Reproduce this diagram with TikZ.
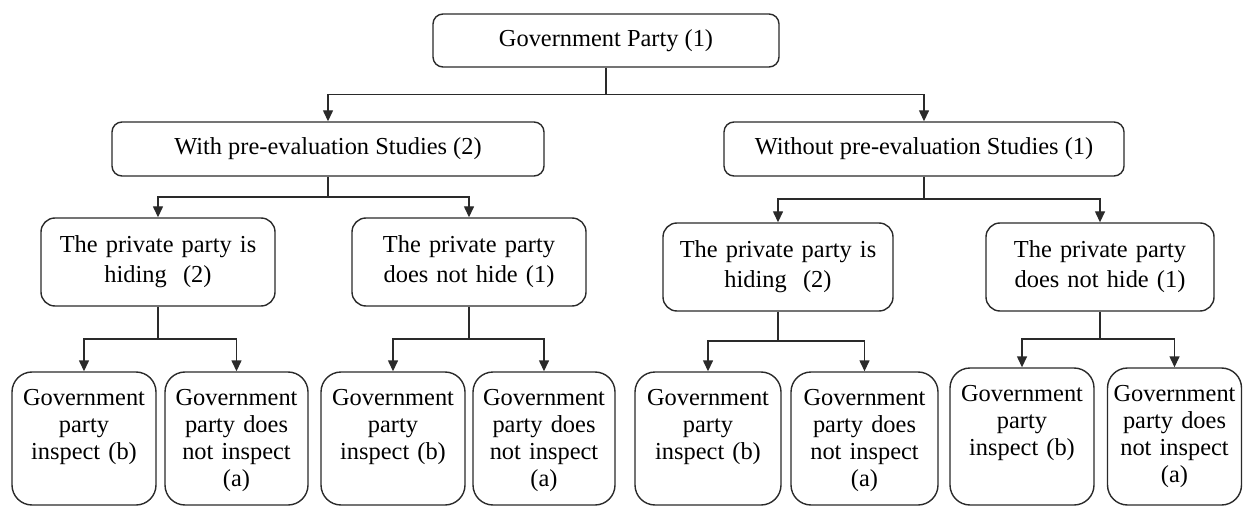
\documentclass[tikz,border=0pt]{standalone}
\usepackage{fontspec}
\setmainfont{Liberation Serif}
\usetikzlibrary{arrows.meta}
\definecolor{ln}{HTML}{2A2A2A}
\tikzset{
  box/.style={draw=ln, line width=0.7pt, rounded corners=5pt, inner sep=0pt, align=center,
    font=\fontsize{12.2pt}{13.5pt}\selectfont, text=black},
  midbox/.style={box, rounded corners=7pt, text width=112pt, font=\fontsize{12.2pt}{15pt}\selectfont},
  leaf/.style={draw=ln, line width=0.7pt, rounded corners=10pt, inner sep=0pt},
  leaftxt/.style={anchor=north, inner sep=0pt, align=center, text width=70pt,
    font=\fontsize{12.2pt}{13.5pt}\selectfont, text=black},
  conn/.style={draw=ln, line width=0.7pt},
  arr/.style={conn, -{Triangle[length=5.5pt,width=5pt]}}
}
\begin{document}
\begin{tikzpicture}[x=0.5pt,y=-0.5pt]
\useasboundingbox (0,0) rectangle (1245,507);
\begin{scope}
\clip (0,0) rectangle (1245,507);
% top levels
\node[box, minimum width=173pt, minimum height=26.5pt] (top) at (606,40.5) {Government Party (1)};
\node[box, minimum width=216pt, minimum height=27pt] (with) at (328,149) {With pre-evaluation Studies (2)};
\node[box, minimum width=200pt, minimum height=27pt] (without) at (924,149) {Without pre-evaluation Studies (1)};
% mid level
\node[midbox, minimum width=117pt, minimum height=44pt] (hidL) at (158,262) {The private party is\\hiding\ \ (2)};
\node[midbox, minimum width=117pt, minimum height=44pt] (dnhL) at (469,262) {The private party\\does not hide (1)};
\node[midbox, minimum width=115pt, minimum height=44pt] (hidR) at (778,267) {The private party is\\hiding\ \ (2)};
\node[midbox, minimum width=114pt, minimum height=44pt] (dnhR) at (1100,267) {The private party\\does not hide (1)};
% leaves
\node[leaf, minimum width=72pt, minimum height=66.5pt] (b1) at (84,438.5) {};
\node[leaf, minimum width=71.5pt, minimum height=66.5pt] (a1) at (236.5,438.5) {};
\node[leaf, minimum width=72pt, minimum height=66.5pt] (b2) at (393,438.5) {};
\node[leaf, minimum width=71pt, minimum height=66.5pt] (a2) at (544,438.5) {};
\node[leaf, minimum width=73pt, minimum height=66.5pt] (b3) at (708,438.5) {};
\node[leaf, minimum width=73.5pt, minimum height=66.5pt] (a3) at (864.5,438.5) {};
\node[leaf, minimum width=72pt, minimum height=68.5pt] (b4) at (1022,436.5) {};
\node[leaf, minimum width=67pt, minimum height=68.5pt] (a4) at (1174.5,436.5) {};
\foreach \n in {b1,b2,b3,b4}{
  \node[leaftxt] (\n t) at ([yshift=-9pt]\n.north) {Government\\party\\inspect (b)};
}
\foreach \n in {a1,a2,a3,a4}{
  \node[leaftxt] (\n t) at ([yshift=-9pt]\n.north) {Government\\party does\\not inspect\\(a)};
}
% connectors
\coordinate (j0) at (606,94.7);
\draw[conn] (top.south) -- (j0);
\draw[arr] (j0) -| (with.north);
\draw[arr] (j0) -| (without.north);

\coordinate (j1) at (328,197);
\draw[conn] (with.south) -- (j1);
\draw[arr] (j1) -| (hidL.north);
\draw[arr] (j1) -| (dnhL.north);

\coordinate (j2) at (924,199);
\draw[conn] (without.south) -- (j2);
\draw[arr] (j2) -| (hidR.north);
\draw[arr] (j2) -| (dnhR.north);

\coordinate (j3) at (158,339);
\draw[conn] (hidL.south) -- (j3);
\draw[arr] (j3) -| (b1.north);
\draw[arr] (j3) -| (a1.north);

\coordinate (j4) at (469,339);
\draw[conn] (dnhL.south) -- (j4);
\draw[arr] (j4) -| (b2.north);
\draw[arr] (j4) -| (a2.north);

\coordinate (j5) at (778,341);
\draw[conn] (hidR.south) -- (j5);
\draw[arr] (j5) -| (b3.north);
\draw[arr] (j5) -| (a3.north);

\coordinate (j6) at (1100,339);
\draw[conn] (dnhR.south) -- (j6);
\draw[arr] (j6) -| (b4.north);
\draw[arr] (j6) -| (a4.north);
\end{scope}
\end{tikzpicture}
\end{document}
